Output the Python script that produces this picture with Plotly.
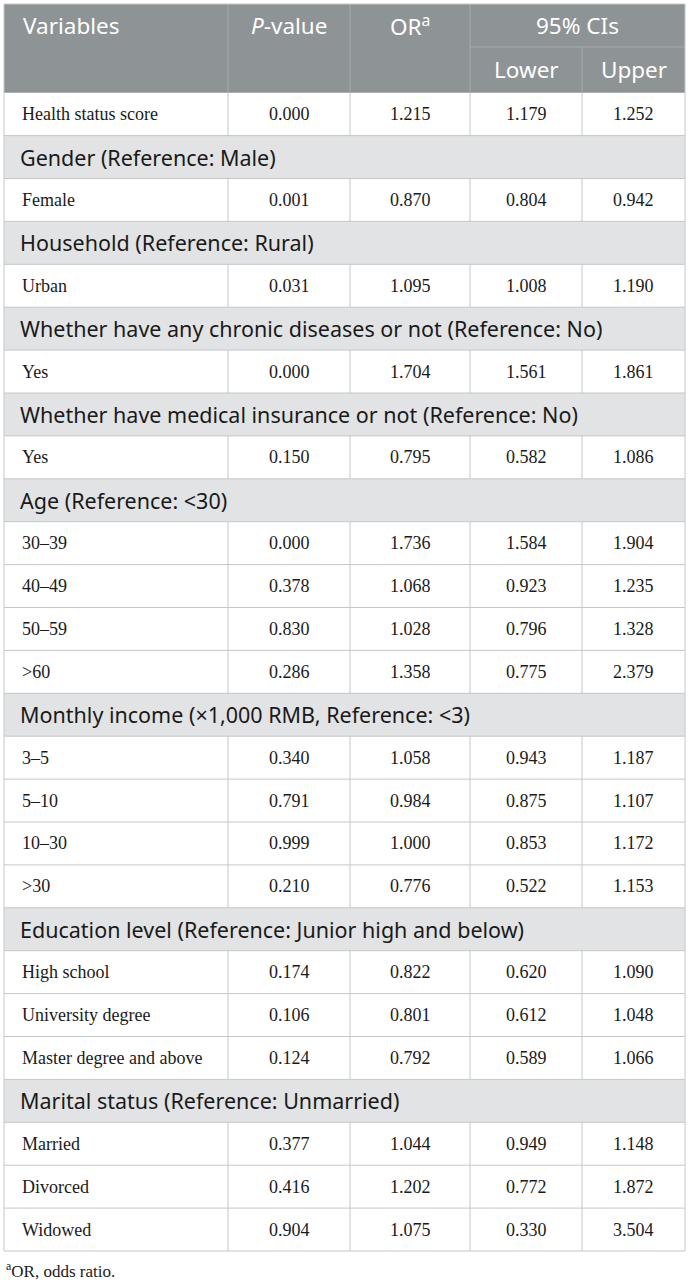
import plotly.graph_objects as go

# table content (group heading rows have empty value cells)
labels = [
    "Health status score",
    "Gender (Reference: Male)", "Female",
    "Household (Reference: Rural)", "Urban",
    "Whether have any chronic diseases or not (Reference: No)", "Yes",
    "Whether have medical insurance or not (Reference: No)", "Yes",
    "Age (Reference: &lt;30)", "30–39", "40–49", "50–59", "&gt;60",
    "Monthly income (×1,000 RMB, Reference: &lt;3)", "3–5", "5–10", "10–30", "&gt;30",
    "Education level (Reference: Junior high and below)",
    "High school", "University degree", "Master degree and above",
    "Marital status (Reference: Unmarried)", "Married", "Divorced", "Widowed",
]
p_values = ["0.000", "", "0.001", "", "0.031", "", "0.000", "", "0.150",
            "", "0.000", "0.378", "0.830", "0.286",
            "", "0.340", "0.791", "0.999", "0.210",
            "", "0.174", "0.106", "0.124",
            "", "0.377", "0.416", "0.904"]
odds_ratios = ["1.215", "", "0.870", "", "1.095", "", "1.704", "", "0.795",
               "", "1.736", "1.068", "1.028", "1.358",
               "", "1.058", "0.984", "1.000", "0.776",
               "", "0.822", "0.801", "0.792",
               "", "1.044", "1.202", "1.075"]
ci_lower = ["1.179", "", "0.804", "", "1.008", "", "1.561", "", "0.582",
            "", "1.584", "0.923", "0.796", "0.775",
            "", "0.943", "0.875", "0.853", "0.522",
            "", "0.620", "0.612", "0.589",
            "", "0.949", "0.772", "0.330"]
ci_upper = ["1.252", "", "0.942", "", "1.190", "", "1.861", "", "1.086",
            "", "1.904", "1.235", "1.328", "2.379",
            "", "1.187", "1.107", "1.172", "1.153",
            "", "1.090", "1.048", "1.066",
            "", "1.148", "1.872", "3.504"]

header_top = ["Variables", "<i>P</i>-value", "OR<sup>a</sup>", "95% CIs"]
ci_sub = ["Lower", "Upper"]
footnote = "<sup>a</sup>OR, odds ratio."

W, H = 689, 1281
col_edges = [4, 228, 350, 470, 582, 685]
head_top, head_mid, head_bot = 4, 47, 92.7
row_h = 42.9

HEAD_BG = "#8e9395"
HEAD_GRID = "#a6aaac"
GROUP_BG = "#e2e3e4"
GRID = "#c4c7c8"
TEXT = "#1a1a1a"
SANS = "Noto Sans"
SERIF = "Liberation Serif"

shapes = []
annots = []


def line(x0, y0, x1, y1, color):
    shapes.append(dict(type="line", x0=x0, y0=y0, x1=x1, y1=y1,
                       line=dict(color=color, width=1)))


def text(x, y, s, size, family, color, anchor="center"):
    annots.append(dict(x=x, y=y, text=s, showarrow=False, xanchor=anchor,
                       yanchor="middle", font=dict(size=size, family=family, color=color)))


left, right = col_edges[0], col_edges[-1]

# header block
shapes.append(dict(type="rect", x0=left, y0=head_top, x1=right, y1=head_bot,
                   fillcolor=HEAD_BG, line=dict(width=0), layer="below"))
for x in col_edges[1:4]:
    line(x, head_top, x, head_bot, HEAD_GRID)
line(col_edges[4], head_mid, col_edges[4], head_bot, HEAD_GRID)
line(col_edges[3], head_mid, right, head_mid, HEAD_GRID)

hy = (head_top + head_mid) / 2
text(left + 17, hy, header_top[0], 22.5, SANS, "white", "left")
text((col_edges[1] + col_edges[2]) / 2, hy, header_top[1], 22.5, SANS, "white")
text((col_edges[2] + col_edges[3]) / 2, hy, header_top[2], 22.5, SANS, "white")
text((col_edges[3] + col_edges[5]) / 2, hy, header_top[3], 22.5, SANS, "white")
ly = (head_mid + head_bot) / 2
text((col_edges[3] + col_edges[4]) / 2, ly, ci_sub[0], 22.5, SANS, "white")
text((col_edges[4] + col_edges[5]) / 2, ly, ci_sub[1], 22.5, SANS, "white")

# body rows
for i, lab in enumerate(labels):
    y0 = head_bot + i * row_h
    y1 = y0 + row_h
    ym = (y0 + y1) / 2
    if p_values[i] == "":
        shapes.append(dict(type="rect", x0=left, y0=y0, x1=right, y1=y1,
                           fillcolor=GROUP_BG, line=dict(width=0), layer="below"))
        text(left + 14, ym, lab, 21.5, SANS, TEXT, "left")
    else:
        for x in col_edges[1:-1]:
            line(x, y0, x, y1, GRID)
        text(left + 16, ym, lab, 18, SERIF, TEXT, "left")
        vals = [p_values[i], odds_ratios[i], ci_lower[i], ci_upper[i]]
        for j, v in enumerate(vals):
            text((col_edges[j + 1] + col_edges[j + 2]) / 2, ym, v, 18, SERIF, TEXT)
    line(left, y1, right, y1, GRID)

table_bot = head_bot + len(labels) * row_h
# outer border
line(left, head_top, right, head_top, GRID)
line(left, head_top, left, table_bot, GRID)
line(right, head_top, right, table_bot, GRID)

text(left, table_bot + 19, footnote, 17, SERIF, TEXT, "left")

fig = go.Figure()
fig.update_layout(
    width=W, height=H,
    margin=dict(l=0, r=0, t=0, b=0),
    paper_bgcolor="white", plot_bgcolor="white",
    xaxis=dict(range=[0, W], visible=False, fixedrange=True),
    yaxis=dict(range=[H, 0], visible=False, fixedrange=True),
    shapes=shapes, annotations=annots, showlegend=False,
)
# drop the default 8px body margin so the figure fills the window
fig.write_html("out.html", config={"displayModeBar": False},
               post_script="document.body.style.margin='0';")
